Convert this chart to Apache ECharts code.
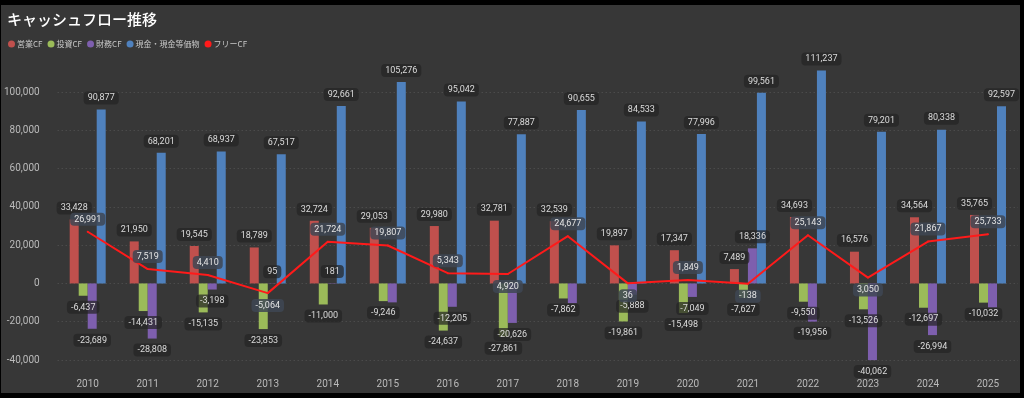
<!DOCTYPE html>
<html>
<head>
<meta charset="utf-8">
<script src="https://cdn.jsdelivr.net/npm/echarts@6/dist/echarts.min.js"></script>
<style>
html, body { margin: 0; padding: 0; background: #000; }
#chart { position: absolute; left: 1px; top: 5px; width: 1019px; height: 388px; background: #373737; }
</style>
</head>
<body>
<div id="chart"></div>
<script>
// 年度
const years = ['2010', '2011', '2012', '2013', '2014', '2015', '2016', '2017', '2018', '2019', '2020', '2021', '2022', '2023', '2024', '2025']
// 営業CF
const operatingCF = [33428, 21950, 19545, 18789, 32724, 29053, 29980, 32781, 32539, 19897, 17347, 7489, 34693, 16576, 34564, 35765]
// 投資CF
const investingCF = [-6437, -14431, -15135, -23853, -11000, -9246, -24637, -27861, -7862, -19861, -15498, -7627, -9550, -13526, -12697, -10032]
// 財務CF (2015, 2018, 2025 はラベル非表示のため目測)
const financingCF = [-23689, -28808, -3198, 95, 181, -9900, -12205, -20626, -10300, -5888, -7049, 18336, -19956, -40062, -26994, -12500]
// 現金・現金等価物
const cashBalance = [90877, 68201, 68937, 67517, 92661, 105276, 95042, 77887, 90655, 84533, 77996, 99561, 111237, 79201, 80338, 92597]
// フリーCF
const freeCF = [26991, 7519, 4410, -5064, 21724, 19807, 5343, 4920, 24677, 36, 1849, -138, 25143, 3050, 21867, 25733]

const yMin = -40000
const yMax = 100000
const yInterval = 20000

const fmt = v => Number(v).toLocaleString('en-US')

const chart = echarts.init(document.getElementById('chart'))

const barLabel = {
  show: true,
  position: 'outside',
  distance: 5,
  color: '#dcdcdc',
  fontSize: 9,
  fontFamily: 'Roboto',
  backgroundColor: 'rgba(36,36,36,0.72)',
  borderRadius: 4,
  padding: [2, 4],
  formatter: p => fmt(p.value)
}

// 財務CFのラベルが投資CFのラベルと重なる年は非表示
const financingData = financingCF.map((v, i) => {
  const overlap = v < 0 && investingCF[i] < 0 && Math.abs(v - investingCF[i]) < 3000
  return { value: v, label: { show: !overlap } }
})

// 谷になっている点はラベルを下に
const freeData = freeCF.map((v, i) => {
  const prev = i > 0 ? freeCF[i - 1] : Infinity
  const next = i < freeCF.length - 1 ? freeCF[i + 1] : Infinity
  const isLow = v < prev && v < next
  return { value: v, label: { position: isLow ? 'bottom' : 'top' } }
})

chart.setOption({
  animation: false,
  title: {
    text: 'キャッシュフロー推移',
    left: 1,
    top: 2,
    textStyle: {
      color: '#ffffff',
      fontSize: 15,
      fontWeight: 500,
      fontFamily: 'Noto Sans CJK JP'
    }
  },
  legend: {
    left: 2,
    top: 30,
    icon: 'circle',
    itemWidth: 7,
    itemHeight: 7,
    itemGap: 5,
    textStyle: {
      color: '#c8c8c8',
      fontSize: 8,
      fontFamily: 'Noto Sans CJK JP',
      padding: [0, 0, 0, -3]
    },
    data: ['営業CF', '投資CF', '財務CF', '現金・現金等価物', 'フリーCF']
  },
  grid: {
    left: 51,
    right: 2,
    top: 87,
    bottom: 33
  },
  xAxis: {
    type: 'category',
    data: years,
    axisLine: { show: false, onZero: false },
    axisTick: { show: false },
    axisLabel: { color: '#bbbbbb', fontSize: 10, fontFamily: 'Roboto', margin: 19 }
  },
  yAxis: {
    type: 'value',
    min: yMin,
    max: yMax,
    interval: yInterval,
    axisLine: { show: false },
    axisTick: { show: false },
    axisLabel: { color: '#bbbbbb', fontSize: 10, fontFamily: 'Roboto', margin: 18, formatter: v => fmt(v) },
    splitLine: { lineStyle: { color: '#555555', type: [1, 3] } }
  },
  series: [
    {
      name: '営業CF',
      type: 'bar',
      barWidth: 9,
      barGap: '0%',
      clip: false,
      data: operatingCF,
      itemStyle: { color: '#C0504D' },
      label: barLabel
    },
    {
      name: '投資CF',
      type: 'bar',
      barWidth: 9,
      barGap: '0%',
      clip: false,
      data: investingCF,
      itemStyle: { color: '#9BBB59' },
      label: barLabel
    },
    {
      name: '財務CF',
      type: 'bar',
      barWidth: 9,
      barGap: '0%',
      clip: false,
      data: financingData,
      itemStyle: { color: '#7E5FAE' },
      label: barLabel
    },
    {
      name: '現金・現金等価物',
      type: 'bar',
      barWidth: 9,
      barGap: '0%',
      clip: false,
      data: cashBalance,
      itemStyle: { color: '#4F81BD' },
      label: barLabel
    },
    {
      name: 'フリーCF',
      type: 'line',
      data: freeData,
      symbol: 'circle',
      symbolSize: 2,
      clip: false,
      itemStyle: { color: '#FF1A1A' },
      lineStyle: { color: '#FF1A1A', width: 2 },
      label: {
        show: true,
        distance: 5,
        color: '#e4e4e4',
        fontSize: 9,
        fontFamily: 'Roboto',
        backgroundColor: 'rgba(62,70,84,0.85)',
        borderRadius: 4,
        padding: [2, 4],
        formatter: p => fmt(p.value)
      }
    }
  ]
})
</script>
</body>
</html>
